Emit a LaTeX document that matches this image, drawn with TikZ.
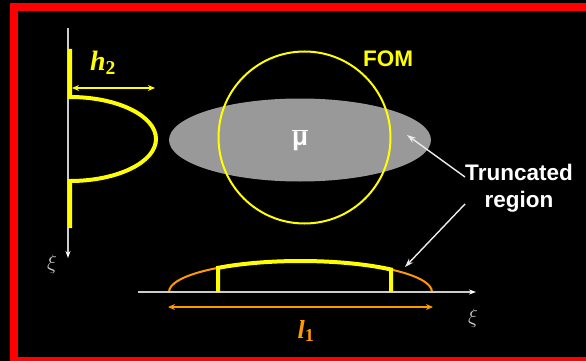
\documentclass[tikz,border=0pt]{standalone}
\usepackage{fontspec}
\setmainfont{Liberation Sans}
\newfontfamily\seriffont{Liberation Serif}
\usetikzlibrary{shapes.geometric,arrows.meta,calc}
\definecolor{framered}{RGB}{255,0,0}
\definecolor{fomyellow}{RGB}{255,255,0}
\definecolor{tailorange}{RGB}{255,153,0}
\definecolor{axisgray}{RGB}{205,205,205}
\definecolor{cloudgray}{RGB}{153,153,153}

\begin{document}
\begin{tikzpicture}[x=1pt, y=1pt,
    axis/.style={draw=axisgray, line width=1.2pt, -{Stealth[length=7pt, width=5pt, color=white]}},
    profile/.style={draw=fomyellow, line width=4pt},
    span/.style={line width=1.3pt, {Stealth[length=7pt, width=6pt]}-{Stealth[length=7pt, width=6pt]}},
    pointer/.style={draw=white!92!black, line width=1.4pt, -{Stealth[length=9pt, width=6pt]}},
    biglabel/.style={font=\fontsize{22.5}{27}\selectfont\bfseries, align=center, inner sep=0pt}]
    \useasboundingbox (0,0) rectangle (586,-361);
    \fill[black] (0,0) rectangle (586,-361);
    \draw[framered, line width=8pt] (14,-7.5) rectangle (620,-361);

    \node[ellipse, fill=cloudgray, minimum width=262pt, minimum height=83pt, inner sep=0pt,
          text=white, font=\fontsize{26}{26}\selectfont\bfseries] (cloud) at (300,-140) {$\overline{\mbox{μ}}$};
    \node[circle, draw=fomyellow, line width=2pt, minimum size=172pt, inner sep=0pt] (fom) at (304.5,-137.5) {};
    \node[biglabel, text=fomyellow] (fomlabel) at (388,-58.5) {FOM};

    % left profile
    \coordinate (vtop) at (68,-28);
    \coordinate (vbot) at (68,-258);
    \draw[axis] (vtop) -- (vbot);
    \draw[profile] (70,-49) -- (70,-97) arc[start angle=90, end angle=-90, x radius=86, y radius=42] -- (70,-228);
    \coordinate (hleft) at (72,-88);
    \coordinate (hright) at (155,-88);
    \draw[span, fomyellow] (hleft) -- (hright);
    \node[text=fomyellow, inner sep=0pt] (hlabel) at (103,-63)
        {\seriffont\fontsize{28}{28}\selectfont\bfseries\itshape h\textsubscript{\upshape 2}};
    \node[text=axisgray, inner sep=0pt] (xiv) at (52,-264) {\fontsize{22}{22}\selectfont$\xi$};

    % bottom profile
    \coordinate (hstart) at (138,-292);
    \coordinate (hend) at (476,-292);
    \coordinate (bc) at (300.5,-292);
    \draw[tailorange, line width=2pt] (169,-292) arc[start angle=180, end angle=0, x radius=131.5, y radius=31];
    \draw[axis] (hstart) -- (hend);
    \draw[profile] (218,-292) -- ($(bc)+(128.8:131.5 and 31)$)
        arc[start angle=128.8, end angle=46.5, x radius=131.5, y radius=31] -- ++(0,-22.5);
    \coordinate (lleft) at (168,-307);
    \coordinate (lright) at (433,-307);
    \draw[span, tailorange] (lleft) -- (lright);
    \node[text=tailorange, inner sep=0pt] (llabel) at (306,-331)
        {\seriffont\fontsize{26}{26}\selectfont\bfseries\itshape l\textsubscript{\upshape 1}};
    \node[text=axisgray, inner sep=0pt] (xih) at (473,-318) {\fontsize{22}{22}\selectfont$\xi$};

    % truncated region
    \node[biglabel, text=white] (trunc) at (519,-188.5) {Truncated\\region};
    \coordinate (cutside) at (407,-135);
    \coordinate (cutbottom) at (405,-267);
    \draw[pointer] (trunc.168) -- (cutside);
    \draw[pointer] (trunc.196) -- (cutbottom);
\end{tikzpicture}
\end{document}
